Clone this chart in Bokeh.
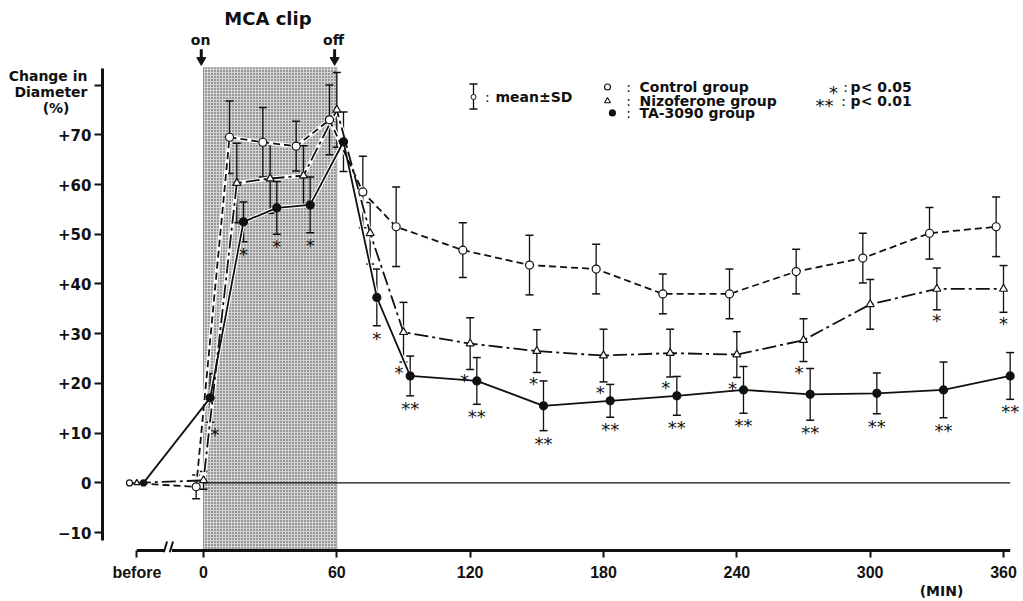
import math

from bokeh.plotting import figure
from bokeh.models import Range1d, FixedTicker, LinearAxis
from bokeh.core.properties import value
from bokeh.embed import file_html
from bokeh.resources import INLINE

NAN = math.nan

# sampling times (min); -30 stands for the "before" reading
times = [-30, 0, 15, 30, 45, 60, 75, 90, 120, 150, 180, 210, 240, 270, 300, 330, 360]

# change in MCA diameter (%), mean and SD per group
control_mean = [0, -0.8, 69.5, 68.5, 67.7, 73.0, 58.5, 51.5, 46.8, 43.8, 43.0, 38.0, 38.0, 42.5, 45.2, 50.2, 51.5]
control_sd = [NAN, 2.4, 7.3, 7.0, 5.0, 7.0, 7.2, 8.0, 5.5, 6.0, 5.0, 4.0, 5.0, 4.5, 5.0, 5.2, 6.0]

nizoferone_mean = [0, 0.5, 60.3, 61.2, 61.8, 75.0, 50.2, 30.3, 28.0, 26.5, 25.6, 26.1, 25.8, 28.7, 35.9, 39.0, 39.0]
nizoferone_sd = [NAN, 1.8, 8.0, 7.0, 6.0, 7.5, 6.2, 6.0, 5.2, 4.3, 5.3, 4.8, 4.6, 4.3, 5.0, 4.2, 4.7]

ta3090_mean = [0, 17.1, 52.5, 55.3, 55.9, 68.6, 37.3, 21.5, 20.5, 15.5, 16.5, 17.5, 18.7, 17.8, 18.0, 18.7, 21.5]
ta3090_sd = [NAN, 4.9, 4.0, 5.3, 5.6, 6.0, 5.7, 4.0, 4.7, 5.0, 3.3, 3.9, 4.7, 5.2, 4.1, 5.6, 4.7]

# significance marks (* p<0.05, ** p<0.01)
nizoferone_sig = ["", "", "", "", "", "", "", "*", "*", "*", "*", "*", "*", "*", "", "*", "*"]
ta3090_sig = ["", "*", "*", "*", "*", "", "*", "**", "**", "**", "**", "**", "**", "**", "**", "**", "**"]

x_ticks = [-30, 0, 60, 120, 180, 240, 300, 360]
x_tick_labels = ["before", "0", "60", "120", "180", "240", "300", "360"]
y_ticks = [-10, 0, 10, 20, 30, 40, 50, 60, 70, 80]
y_tick_labels = ["\u221210", "0", "+10", "+20", "+30", "+40", "+50", "+60", "+70", ""]

clip_on, clip_off = 0, 60

INK = "#111111"
SANS = "Liberation Sans"
WIDE = "DejaVu Sans"

AXIS_Y = -13.6      # level of the time axis line
Y_LOW = -14.0

p = figure(
    width=1023, height=601,
    x_range=Range1d(-45.45, 367.65), y_range=Range1d(Y_LOW, 97.0),
    min_border_left=102, min_border_right=3, min_border_top=0, min_border_bottom=46,
    output_backend="svg", toolbar_location=None,
)
p.outline_line_color = None
p.xgrid.visible = False
p.ygrid.visible = False
p.background_fill_color = "white"
p.border_fill_color = "white"


def quiet_axis(ax):
    ax.axis_line_color = None
    ax.major_tick_line_color = None
    ax.minor_tick_line_color = None
    ax.major_tick_in = 0
    ax.major_tick_out = 0
    ax.major_label_text_font = WIDE
    ax.major_label_text_font_style = "bold"
    ax.major_label_text_font_size = "14px"
    ax.major_label_text_color = INK


# time axis: ticks and labels from the axis, its line drawn below with a break
xa = p.xaxis[0]
xa.ticker = FixedTicker(ticks=x_ticks)
xa.major_label_overrides = dict(zip(x_ticks, x_tick_labels))
xa.axis_line_color = None
xa.major_tick_line_width = 2
xa.major_tick_line_color = INK
xa.major_tick_in = 2
xa.major_tick_out = 5
xa.minor_tick_line_color = None
xa.major_label_standoff = 6
xa.major_label_text_font = SANS
xa.major_label_text_font_style = "bold"
xa.major_label_text_font_size = "16px"
xa.major_label_text_color = INK

unit_axis = LinearAxis(ticker=FixedTicker(ticks=[332.1]), major_label_overrides={332.1: "(MIN)"})
quiet_axis(unit_axis)
unit_axis.major_label_standoff = -1
p.add_layout(unit_axis, "below")

ya = p.yaxis[0]
ya.ticker = FixedTicker(ticks=y_ticks)
ya.major_label_overrides = dict(zip(y_ticks, y_tick_labels))
ya.bounds = (-11.6, 83.4)
ya.axis_line_width = 3
ya.axis_line_color = INK
ya.major_tick_line_width = 2
ya.major_tick_line_color = INK
ya.major_tick_in = 0
ya.major_tick_out = 8
ya.minor_tick_line_color = None
ya.major_label_standoff = 3
ya.major_label_text_font = WIDE
ya.major_label_text_font_style = "bold"
ya.major_label_text_font_size = "15px"
ya.major_label_text_color = INK

title_axis = LinearAxis(ticker=FixedTicker(ticks=[81.8, 78.6]),
                        major_label_overrides={81.8: "Change in", 78.6: "Diameter"})
quiet_axis(title_axis)
title_axis.major_label_standoff = -32
p.add_layout(title_axis, "left")

pct_axis = LinearAxis(ticker=FixedTicker(ticks=[75.4]), major_label_overrides={75.4: "(%)"})
quiet_axis(pct_axis)
pct_axis.major_label_standoff = -64
p.add_layout(pct_axis, "left")

# clip period, stippled
p.quad(left=[clip_on], right=[clip_off], bottom=[AXIS_Y], top=[83.6],
       fill_color="#d4d4d4", line_color=None,
       hatch_pattern="dot", hatch_color="#3a3a3a", hatch_scale=3.0, hatch_weight=1.0)
p.segment(x0=[clip_on, clip_off], y0=[AXIS_Y, AXIS_Y], x1=[clip_on, clip_off], y1=[83.6, 83.6],
          line_color="#555555", line_width=1, line_dash="1 1")

# time axis line with the break between "before" and 0
p.segment(x0=[-30, -14.2], y0=[AXIS_Y, AXIS_Y], x1=[-17.4, 363], y1=[AXIS_Y, AXIS_Y],
          line_color=INK, line_width=3)
p.segment(x0=[-17.9, -15.2], y0=[Y_LOW, Y_LOW], x1=[-16.4, -13.7], y1=[-11.8, -11.8],
          line_color=INK, line_width=2)

# zero line
p.line(x=[clip_on, 363], y=[0, 0], line_color=INK, line_width=1.2)

groups = [
    (control_mean, control_sd, -3.3, "7 4", "circle", "white"),
    (nizoferone_mean, nizoferone_sd, 0.0, "14 4 3 4", "triangle", "white"),
    (ta3090_mean, ta3090_sd, 3.0, None, "circle", INK),
]

# error bars
for mean, sd, dx, dash, marker, fill in groups:
    xs = [t + dx for t, s in zip(times, sd) if not math.isnan(s)]
    lo = [m - s for m, s in zip(mean, sd) if not math.isnan(s)]
    hi = [m + s for m, s in zip(mean, sd) if not math.isnan(s)]
    p.segment(x0=xs, y0=lo, x1=xs, y1=hi, line_color=INK, line_width=1.3)
    p.scatter(x=xs + xs, y=lo + hi, marker="dash", size=8, line_color=INK, line_width=1.5)

# connecting lines (white underlay keeps crossings legible)
for mean, sd, dx, dash, marker, fill in groups:
    xs = [t + dx for t in times]
    p.line(x=xs, y=mean, line_color="white", line_width=4)
for mean, sd, dx, dash, marker, fill in groups:
    xs = [t + dx for t in times]
    kw = dict(line_dash=dash) if dash else {}
    p.line(x=xs, y=mean, line_color=INK, line_width=1.8, **kw)

# markers
for mean, sd, dx, dash, marker, fill in groups:
    xs = [t + dx for t in times]
    sizes = [6] + [8] * (len(times) - 1)
    p.scatter(x=xs, y=mean, marker=marker, size=sizes, fill_color=fill,
              line_color=INK, line_width=1.2)

# significance marks below the error bars
sig_nudge_niz = {90: -2, 120: -2.5, 150: -1.5, 180: -1.5, 210: -2, 240: -2, 270: -2}
sig_nudge_ta = {0: 2.2}
star_font = value("DejaVu Sans")
for mean, sd, dx, sig, nudge, gap in [
    (nizoferone_mean, nizoferone_sd, 0.0, nizoferone_sig, sig_nudge_niz, 1.2),
    (ta3090_mean, ta3090_sd, 3.0, ta3090_sig, sig_nudge_ta, 1.5),
]:
    sx, sy, st = [], [], []
    for t, m, s, g in zip(times, mean, sd, sig):
        if g:
            sx.append(t + dx + nudge.get(t, 0))
            sy.append(m - s - gap - 1.0)
            st.append(g)
    p.text(x=sx, y=sy, text=st, text_font=star_font, text_font_size="18px",
           text_align="center", text_baseline="middle", text_color=INK)

# clip annotation
p.text(x=[(clip_on + clip_off) / 2 - 1], y=[93.4], text=["MCA clip"], text_font=value(WIDE),
       text_font_style="bold", text_font_size="18px", text_align="center",
       text_baseline="middle", text_color=INK)
p.text(x=[clip_on - 1.3, clip_off - 1.5], y=[89.0, 89.0], text=["on", "off"], text_font=value(WIDE),
       text_font_style="bold", text_font_size="14px", text_align="center",
       text_baseline="middle", text_color=INK)
p.segment(x0=[clip_on - 1, clip_off - 1], y0=[87.2, 87.2], x1=[clip_on - 1, clip_off - 1], y1=[85.4, 85.4],
          line_color=INK, line_width=3)
p.scatter(x=[clip_on - 1, clip_off - 1], y=[85.0, 85.0], marker="inverted_triangle", size=9,
          fill_color=INK, line_color=INK)

# key
key_font = value(WIDE)
p.segment(x0=[121.5], y0=[75.2], x1=[121.5], y1=[80.2], line_color=INK, line_width=1.3)
p.scatter(x=[121.5, 121.5], y=[75.2, 80.2], marker="dash", size=8, line_color=INK, line_width=1.5)
p.scatter(x=[121.5], y=[77.6], marker="circle", size=5, fill_color="white", line_color=INK)
p.scatter(x=[181.8, 181.8, 184.0], y=[79.6, 76.8, 74.4], marker=["circle", "triangle", "circle"],
          size=[6, 6, 6], fill_color=["white", "white", INK], line_color=INK, line_width=1.1)
p.text(x=[127.7, 191.3, 191.3, 191.3, 288.9, 288.0],
       y=[77.6, 79.6, 76.8, 74.4, 79.6, 76.8],
       text=[":", ":", ":", ":", ":", ":"], text_font=key_font, text_font_size="14px",
       text_align="center", text_baseline="middle", text_color=INK)
p.text(x=[131.4, 196.2, 196.2, 196.2, 291.2, 291.2],
       y=[77.6, 79.6, 76.8, 74.4, 79.6, 76.8],
       text=["mean\u00b1SD", "Control group", "Nizoferone group", "TA-3090 group", "p< 0.05", "p< 0.01"],
       text_font=key_font, text_font_style="bold", text_font_size="14px",
       text_align="left", text_baseline="middle", text_color=INK)
p.text(x=[283.5, 279.5], y=[79.6 - 1.0, 76.8 - 1.0], text=["*", "**"], text_font=star_font,
       text_font_size="18px", text_align="center", text_baseline="middle", text_color=INK)

open("out.html", "w").write(file_html(p, INLINE))
